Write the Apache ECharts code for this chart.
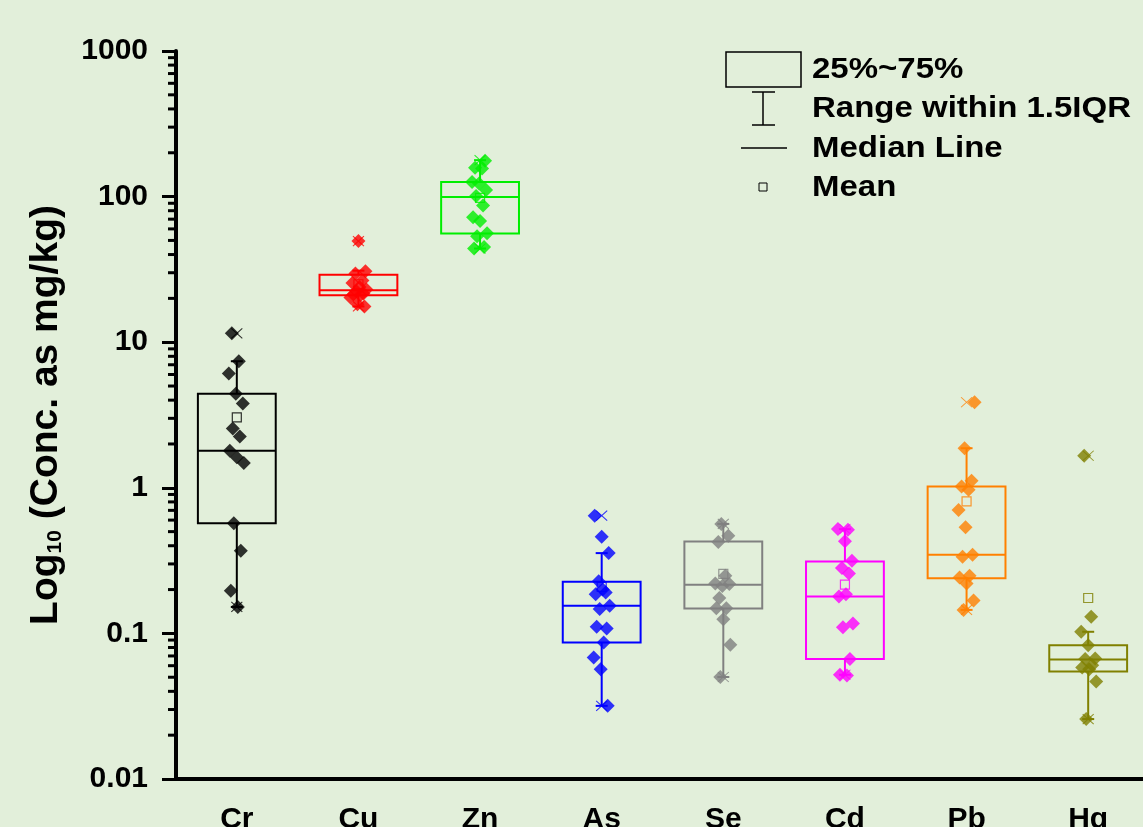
<!DOCTYPE html>
<html>
<head>
<meta charset="utf-8">
<title>Heavy metals box chart</title>
<script src="https://cdn.jsdelivr.net/npm/echarts@6/dist/echarts.min.js"></script>
<style>
  html, body { margin: 0; padding: 0; background: #e2efda; }
  #main { width: 1143px; height: 827px; }
</style>
</head>
<body>
<div id="main"></div>
<script>
// categories and colours
const elements = ['Cr', 'Cu', 'Zn', 'As', 'Se', 'Cd', 'Pb', 'Hg'];
const colors = ['#000000', '#ff0000', '#00ee00', '#0000ff', '#808080', '#ff00ff', '#ff8000', '#808000'];

// box statistics (mg/kg)
const whiskerLow  = [0.152, 17.6, 44,  0.0318, 0.0502, 0.052,  0.145, 0.0258];
const quart1      = [0.57,  21.0, 55.7, 0.0865, 0.148, 0.0666, 0.239, 0.0547];
const medians     = [1.80,  22.7, 99.5, 0.155,  0.216, 0.179,  0.347, 0.0661];
const quart3      = [4.43,  29.1, 126, 0.226,  0.427, 0.312,  1.02,  0.083];
const whiskerHigh = [7.4,   31.0, 178, 0.356,  0.565, 0.52,   1.87,  0.1026];
const means       = [3.05,  25.0, 98,  0.209,  0.256, 0.216,  0.807, 0.175];
const minValues   = [0.152, 17.6, 44,  0.0318, 0.0502, 0.052,  0.145, 0.0258];
const maxValues   = [11.5,  49.5, 178, 0.644,  0.565, 0.521,  3.87,  1.66];

// individual samples
const crPoints = [11.5, 7.4, 6.1, 4.43, 3.8, 2.55, 2.25, 1.8, 1.62, 1.48, 0.57, 0.37, 0.196, 0.152];
const cuPoints = [49.5, 30.7, 29.6, 26.5, 25.5, 23.9, 23.0, 22.4, 21.6, 21.3, 21.0, 20.3, 18.2, 17.6];
const znPoints = [176, 158, 156, 126, 123, 111, 101, 87, 72, 68, 56, 53.4, 45, 44];
const asPoints = [0.644, 0.461, 0.356, 0.228, 0.191, 0.186, 0.2, 0.155, 0.147, 0.108, 0.111, 0.0865, 0.0683, 0.0568, 0.0318];
const sePoints = [0.565, 0.469, 0.425, 0.249, 0.22, 0.212, 0.218, 0.175, 0.149, 0.149, 0.125, 0.0835, 0.0502];
const cdPoints = [0.515, 0.521, 0.429, 0.316, 0.281, 0.258, 0.179, 0.186, 0.117, 0.11, 0.0666, 0.0519, 0.0513];
const pbPoints = [3.87, 1.87, 1.12, 1.02, 0.968, 0.705, 0.535, 0.347, 0.336, 0.249, 0.242, 0.22, 0.168, 0.145];
const hgPoints = [1.66, 0.13, 0.1026, 0.083, 0.0672, 0.0668, 0.0605, 0.0583, 0.0568, 0.0467, 0.0258];
const samples = [crPoints, cuPoints, znPoints, asPoints, sePoints, cdPoints, pbPoints, hgPoints];

// log axis minor ticks (2..9 of each decade)
const minorTickValues = [];
for (let e = -2; e < 3; e++) {
    for (let m = 2; m <= 9; m++) minorTickValues.push(+(m * Math.pow(10, e)).toPrecision(3));
}

const FONT = '"Liberation Sans", Arial, sans-serif';
const chart = echarts.init(document.getElementById('main'));

// small fixed horizontal spread so the dots don't sit on one line
function jitter(k, i) {
    return ((i * 7 + k * 5 + 3) % 17) - 8;
}

const sampleSeries = samples.map((pts, k) => ({
    type: 'scatter',
    symbol: 'diamond',
    symbolSize: 14,
    z: 4,
    itemStyle: { color: colors[k] },
    data: pts.map((v, i) => ({ value: [k, v], symbolOffset: [jitter(k, i), 0] }))
}));

const option = {
    backgroundColor: '#e2efda',
    animation: false,
    grid: { left: 176, top: 51, right: -6, bottom: 48, containLabel: false, outerBoundsMode: 'none' },
    xAxis: {
        type: 'category',
        data: elements,
        axisLine: { lineStyle: { color: '#000', width: 4 } },
        axisTick: { alignWithLabel: true, length: 14, lineStyle: { color: '#000', width: 3 } },
        axisLabel: { interval: 0, margin: 26, fontSize: 30, fontWeight: 'bold', color: '#000', fontFamily: FONT },
        splitLine: { show: false }
    },
    yAxis: {
        type: 'log',
        logBase: 10,
        min: 0.01,
        max: 1000,
        axisLine: { show: true, lineStyle: { color: '#000', width: 4 } },
        axisTick: { show: true, inside: false, length: 14, lineStyle: { color: '#000', width: 3 } },
        axisLabel: {
            margin: 28, fontSize: 30, fontWeight: 'bold', color: '#000', fontFamily: FONT,
            showMinLabel: true, showMaxLabel: true,
            formatter: v => String(+Number(v).toPrecision(3))
        },
        splitLine: { show: false },
        name: '{t|Log}{s|10}{t| (Conc. as mg/kg)}',
        nameLocation: 'middle',
        nameRotate: 90,
        nameGap: 110,
        nameMoveOverlap: false,
        nameTextStyle: {
            color: '#000',
            rich: {
                t: { fontSize: 39, fontWeight: 'bold', fontFamily: FONT, color: '#000', lineHeight: 39, verticalAlign: 'top' },
                s: { fontSize: 21, fontWeight: 'bold', fontFamily: FONT, color: '#000', lineHeight: 21, padding: [24, 0, 0, 0], verticalAlign: 'bottom' }
            }
        }
    },
    series: [
        {
            // minor ticks on the log axis
            type: 'custom',
            silent: true,
            clip: false,
            z: 1,
            data: minorTickValues.map(v => [0, v]),
            encode: { x: 0, y: 1 },
            renderItem: (params, api) => {
                const y = api.coord([0, api.value(1)])[1];
                const x0 = params.coordSys.x;
                return {
                    type: 'line',
                    shape: { x1: x0 - 8, y1: y, x2: x0, y2: y },
                    style: { stroke: '#000', lineWidth: 3 }
                };
            }
        },
        {
            // boxes, medians and whiskers
            type: 'custom',
            z: 2,
            data: elements.map((_, k) => [k, whiskerLow[k], quart1[k], medians[k], quart3[k], whiskerHigh[k]]),
            encode: { x: 0, y: [1, 2, 3, 4, 5] },
            renderItem: (params, api) => {
                const k = api.value(0);
                const lo = api.coord([k, api.value(1)]);
                const q1 = api.coord([k, api.value(2)]);
                const md = api.coord([k, api.value(3)]);
                const q3 = api.coord([k, api.value(4)]);
                const hi = api.coord([k, api.value(5)]);
                const bw = api.size([1, 1], [k, 1])[0] * 0.64;
                const x = md[0];
                const cap = 6;
                const st = { stroke: colors[k], lineWidth: 2, fill: 'none' };
                return {
                    type: 'group',
                    children: [
                        { type: 'line', shape: { x1: x, y1: q3[1], x2: x, y2: hi[1] }, style: st },
                        { type: 'line', shape: { x1: x, y1: q1[1], x2: x, y2: lo[1] }, style: st },
                        { type: 'line', shape: { x1: x - cap, y1: hi[1], x2: x + cap, y2: hi[1] }, style: st },
                        { type: 'line', shape: { x1: x - cap, y1: lo[1], x2: x + cap, y2: lo[1] }, style: st },
                        { type: 'rect', shape: { x: x - bw / 2, y: q3[1], width: bw, height: q1[1] - q3[1] }, style: st },
                        { type: 'line', shape: { x1: x - bw / 2, y1: md[1], x2: x + bw / 2, y2: md[1] }, style: st }
                    ]
                };
            }
        },
        {
            // means
            type: 'scatter',
            symbol: 'rect',
            symbolSize: 9,
            z: 3,
            data: means.map((v, k) => ({
                value: [k, v],
                itemStyle: { color: 'rgba(0,0,0,0)', borderColor: colors[k], borderWidth: 1.2 }
            }))
        },
        ...sampleSeries,
        {
            // min / max markers
            type: 'scatter',
            symbol: 'path://M0,0L10,10M10,0L0,10',
            symbolSize: [11, 10],
            z: 5,
            data: elements.flatMap((_, k) => [minValues[k], maxValues[k]].map(v => ({
                value: [k, v],
                itemStyle: { color: 'rgba(0,0,0,0)', borderColor: colors[k], borderWidth: 1 }
            })))
        }
    ],
    graphic: [
        { type: 'rect', shape: { x: 726, y: 52, width: 75, height: 35 }, style: { fill: 'none', stroke: '#000', lineWidth: 1.5 } },
        { type: 'text', x: 812, y: 70, scaleX: 1.1, style: { text: '25%~75%', font: 'bold 30px ' + FONT, fill: '#000', verticalAlign: 'middle' } },
        { type: 'line', shape: { x1: 763, y1: 92, x2: 763, y2: 125 }, style: { stroke: '#000', lineWidth: 1.5 } },
        { type: 'line', shape: { x1: 752, y1: 92, x2: 775, y2: 92 }, style: { stroke: '#000', lineWidth: 1.5 } },
        { type: 'line', shape: { x1: 752, y1: 125, x2: 775, y2: 125 }, style: { stroke: '#000', lineWidth: 1.5 } },
        { type: 'text', x: 812, y: 109, scaleX: 1.1, style: { text: 'Range within 1.5IQR', font: 'bold 30px ' + FONT, fill: '#000', verticalAlign: 'middle' } },
        { type: 'line', shape: { x1: 741, y1: 148, x2: 787, y2: 148 }, style: { stroke: '#000', lineWidth: 1.5 } },
        { type: 'text', x: 812, y: 149, scaleX: 1.1, style: { text: 'Median Line', font: 'bold 30px ' + FONT, fill: '#000', verticalAlign: 'middle' } },
        { type: 'rect', shape: { x: 759, y: 183, width: 8, height: 8 }, style: { fill: 'none', stroke: '#000', lineWidth: 1 } },
        { type: 'text', x: 812, y: 188, scaleX: 1.1, style: { text: 'Mean', font: 'bold 30px ' + FONT, fill: '#000', verticalAlign: 'middle' } }
    ]
};

chart.setOption(option);
</script>
</body>
</html>
